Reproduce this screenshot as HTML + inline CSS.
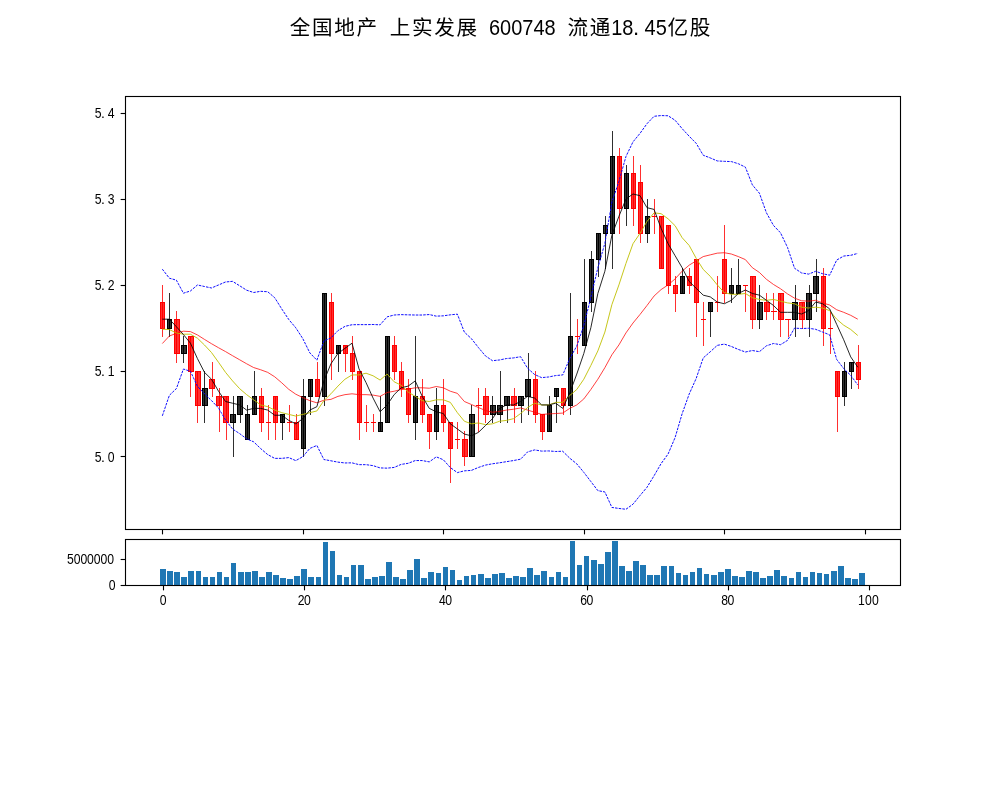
<!DOCTYPE html>
<html lang="zh"><head><meta charset="utf-8"><title>全国地产 上实发展 600748</title>
<style>html,body{margin:0;padding:0;background:#fff;}body{width:1000px;height:800px;overflow:hidden;}svg{display:block;will-change:transform;}text{font-family:"Liberation Sans","Noto Sans CJK SC",sans-serif;fill:#000;}.tk{font-size:13.89px;}.tt{font-size:22.22px;}</style></head><body>
<svg width="1000" height="800" viewBox="0 0 1000 800">
<g class="tt">
<text x="300.12" y="35.3" text-anchor="middle" font-size="20.6">全</text>
<text x="322.34" y="35.3" text-anchor="middle" font-size="20.6">国</text>
<text x="344.56" y="35.3" text-anchor="middle" font-size="20.6">地</text>
<text x="366.78" y="35.3" text-anchor="middle" font-size="20.6">产</text>
<text x="400.11" y="35.3" text-anchor="middle" font-size="20.6">上</text>
<text x="422.33" y="35.3" text-anchor="middle" font-size="20.6">实</text>
<text x="444.55" y="35.3" text-anchor="middle" font-size="20.6">发</text>
<text x="466.77" y="35.3" text-anchor="middle" font-size="20.6">展</text>
<text transform="translate(494.55,35.0) scale(0.90,1)" text-anchor="middle">6</text>
<text transform="translate(505.66,35.0) scale(0.90,1)" text-anchor="middle">0</text>
<text transform="translate(516.77,35.0) scale(0.90,1)" text-anchor="middle">0</text>
<text transform="translate(527.88,35.0) scale(0.90,1)" text-anchor="middle">7</text>
<text transform="translate(538.99,35.0) scale(0.90,1)" text-anchor="middle">4</text>
<text transform="translate(550.10,35.0) scale(0.90,1)" text-anchor="middle">8</text>
<text x="577.87" y="35.3" text-anchor="middle" font-size="20.6">流</text>
<text x="600.09" y="35.3" text-anchor="middle" font-size="20.6">通</text>
<text transform="translate(616.76,35.0) scale(0.90,1)" text-anchor="middle">1</text>
<text transform="translate(627.87,35.0) scale(0.90,1)" text-anchor="middle">8</text>
<text x="636.02" y="35.0" text-anchor="middle">.</text>
<text transform="translate(650.09,35.0) scale(0.90,1)" text-anchor="middle">4</text>
<text transform="translate(661.20,35.0) scale(0.90,1)" text-anchor="middle">5</text>
<text x="677.86" y="35.3" text-anchor="middle" font-size="20.6">亿</text>
<text x="700.08" y="35.3" text-anchor="middle" font-size="20.6">股</text>
</g>
<defs><clipPath id="cm"><rect x="125.5" y="96.5" width="775.0" height="433.0"/></clipPath></defs>
<g clip-path="url(#cm)">
<line x1="162.5" x2="162.5" y1="285" y2="337" stroke="#ff0000" stroke-width="0.82"/>
<rect x="160" y="302" width="5" height="27" fill="#ff0000"/>
<rect x="161" y="303" width="1.0" height="25" fill="#ff3030"/>
<rect x="163.0" y="303" width="1.0" height="25" fill="#ff3030"/>
<line x1="169.5" x2="169.5" y1="293" y2="337" stroke="#000000" stroke-width="0.82"/>
<rect x="167" y="319" width="5" height="10" fill="#000000"/>
<rect x="168" y="320" width="1.0" height="8" fill="#333333"/>
<rect x="170.0" y="320" width="1.0" height="8" fill="#333333"/>
<line x1="176.5" x2="176.5" y1="311" y2="363" stroke="#ff0000" stroke-width="0.82"/>
<rect x="174" y="319" width="6" height="35" fill="#ff0000"/>
<rect x="175" y="320" width="1.0" height="33" fill="#ff3030"/>
<rect x="177.0" y="320" width="2.0" height="33" fill="#ff3030"/>
<line x1="183.5" x2="183.5" y1="336" y2="363" stroke="#000000" stroke-width="0.82"/>
<rect x="181" y="345" width="6" height="9" fill="#000000"/>
<rect x="182" y="346" width="1.0" height="7" fill="#333333"/>
<rect x="184.0" y="346" width="2.0" height="7" fill="#333333"/>
<line x1="190.5" x2="190.5" y1="336" y2="397" stroke="#ff0000" stroke-width="0.82"/>
<rect x="188" y="336" width="6" height="36" fill="#ff0000"/>
<rect x="189" y="337" width="1.0" height="34" fill="#ff3030"/>
<rect x="191.0" y="337" width="2.0" height="34" fill="#ff3030"/>
<line x1="197.5" x2="197.5" y1="371" y2="423" stroke="#ff0000" stroke-width="0.82"/>
<rect x="195" y="371" width="6" height="35" fill="#ff0000"/>
<rect x="196" y="372" width="1.0" height="33" fill="#ff3030"/>
<rect x="198.0" y="372" width="2.0" height="33" fill="#ff3030"/>
<line x1="204.5" x2="204.5" y1="371" y2="423" stroke="#000000" stroke-width="0.82"/>
<rect x="202" y="388" width="6" height="18" fill="#000000"/>
<rect x="203" y="389" width="1.0" height="16" fill="#333333"/>
<rect x="205.0" y="389" width="2.0" height="16" fill="#333333"/>
<line x1="212.5" x2="212.5" y1="362" y2="397" stroke="#ff0000" stroke-width="0.82"/>
<rect x="209" y="379" width="6" height="10" fill="#ff0000"/>
<rect x="210" y="380" width="2.0" height="8" fill="#ff3030"/>
<rect x="213.0" y="380" width="1.0" height="8" fill="#ff3030"/>
<line x1="219.5" x2="219.5" y1="388" y2="432" stroke="#ff0000" stroke-width="0.82"/>
<rect x="216" y="396" width="6" height="10" fill="#ff0000"/>
<rect x="217" y="397" width="2.0" height="8" fill="#ff3030"/>
<rect x="220.0" y="397" width="1.0" height="8" fill="#ff3030"/>
<line x1="226.5" x2="226.5" y1="396" y2="440" stroke="#ff0000" stroke-width="0.82"/>
<rect x="223" y="396" width="6" height="27" fill="#ff0000"/>
<rect x="224" y="397" width="2.0" height="25" fill="#ff3030"/>
<rect x="227.0" y="397" width="1.0" height="25" fill="#ff3030"/>
<line x1="233.5" x2="233.5" y1="396" y2="457" stroke="#000000" stroke-width="0.82"/>
<rect x="230" y="414" width="6" height="9" fill="#000000"/>
<rect x="231" y="415" width="2.0" height="7" fill="#333333"/>
<rect x="234.0" y="415" width="1.0" height="7" fill="#333333"/>
<line x1="240.5" x2="240.5" y1="396" y2="423" stroke="#000000" stroke-width="0.82"/>
<rect x="237" y="396" width="6" height="19" fill="#000000"/>
<rect x="238" y="397" width="2.0" height="17" fill="#333333"/>
<rect x="241.0" y="397" width="1.0" height="17" fill="#333333"/>
<line x1="247.5" x2="247.5" y1="405" y2="440" stroke="#000000" stroke-width="0.82"/>
<rect x="245" y="414" width="5" height="26" fill="#000000"/>
<rect x="246" y="415" width="1.0" height="24" fill="#333333"/>
<rect x="248.0" y="415" width="1.0" height="24" fill="#333333"/>
<line x1="254.5" x2="254.5" y1="371" y2="415" stroke="#000000" stroke-width="0.82"/>
<rect x="252" y="396" width="5" height="19" fill="#000000"/>
<rect x="253" y="397" width="1.0" height="17" fill="#333333"/>
<rect x="255.0" y="397" width="1.0" height="17" fill="#333333"/>
<line x1="261.5" x2="261.5" y1="388" y2="432" stroke="#ff0000" stroke-width="0.82"/>
<rect x="259" y="396" width="5" height="27" fill="#ff0000"/>
<rect x="260" y="397" width="1.0" height="25" fill="#ff3030"/>
<rect x="262.0" y="397" width="1.0" height="25" fill="#ff3030"/>
<line x1="268.5" x2="268.5" y1="405" y2="440" stroke="#ff0000" stroke-width="0.82"/>
<rect x="266" y="422" width="5" height="1" fill="#ff0000"/>
<line x1="275.5" x2="275.5" y1="396" y2="440" stroke="#ff0000" stroke-width="0.82"/>
<rect x="273" y="396" width="5" height="27" fill="#ff0000"/>
<rect x="274" y="397" width="1.0" height="25" fill="#ff3030"/>
<rect x="276.0" y="397" width="1.0" height="25" fill="#ff3030"/>
<line x1="282.5" x2="282.5" y1="414" y2="440" stroke="#000000" stroke-width="0.82"/>
<rect x="280" y="414" width="5" height="9" fill="#000000"/>
<rect x="281" y="415" width="1.0" height="7" fill="#333333"/>
<rect x="283.0" y="415" width="1.0" height="7" fill="#333333"/>
<line x1="289.5" x2="289.5" y1="405" y2="432" stroke="#ff0000" stroke-width="0.82"/>
<rect x="287" y="422" width="5" height="1" fill="#ff0000"/>
<line x1="296.5" x2="296.5" y1="414" y2="440" stroke="#ff0000" stroke-width="0.82"/>
<rect x="294" y="422" width="5" height="18" fill="#ff0000"/>
<rect x="295" y="423" width="1.0" height="16" fill="#ff3030"/>
<rect x="297.0" y="423" width="1.0" height="16" fill="#ff3030"/>
<line x1="303.5" x2="303.5" y1="379" y2="457" stroke="#000000" stroke-width="0.82"/>
<rect x="301" y="396" width="5" height="53" fill="#000000"/>
<rect x="302" y="397" width="1.0" height="51" fill="#333333"/>
<rect x="304.0" y="397" width="1.0" height="51" fill="#333333"/>
<line x1="310.5" x2="310.5" y1="379" y2="415" stroke="#000000" stroke-width="0.82"/>
<rect x="308" y="379" width="5" height="18" fill="#000000"/>
<rect x="309" y="380" width="1.0" height="16" fill="#333333"/>
<rect x="311.0" y="380" width="1.0" height="16" fill="#333333"/>
<line x1="317.5" x2="317.5" y1="362" y2="397" stroke="#ff0000" stroke-width="0.82"/>
<rect x="315" y="379" width="5" height="18" fill="#ff0000"/>
<rect x="316" y="380" width="1.0" height="16" fill="#ff3030"/>
<rect x="318.0" y="380" width="1.0" height="16" fill="#ff3030"/>
<line x1="324.5" x2="324.5" y1="293" y2="406" stroke="#000000" stroke-width="0.82"/>
<rect x="322" y="293" width="5" height="104" fill="#000000"/>
<rect x="323" y="294" width="1.0" height="102" fill="#333333"/>
<rect x="325.0" y="294" width="1.0" height="102" fill="#333333"/>
<line x1="331.5" x2="331.5" y1="293" y2="380" stroke="#ff0000" stroke-width="0.82"/>
<rect x="329" y="302" width="5" height="52" fill="#ff0000"/>
<rect x="330" y="303" width="1.0" height="50" fill="#ff3030"/>
<rect x="332.0" y="303" width="1.0" height="50" fill="#ff3030"/>
<line x1="338.5" x2="338.5" y1="345" y2="372" stroke="#000000" stroke-width="0.82"/>
<rect x="336" y="345" width="5" height="9" fill="#000000"/>
<rect x="337" y="346" width="1.0" height="7" fill="#333333"/>
<rect x="339.0" y="346" width="1.0" height="7" fill="#333333"/>
<line x1="345.5" x2="345.5" y1="345" y2="372" stroke="#ff0000" stroke-width="0.82"/>
<rect x="343" y="345" width="5" height="9" fill="#ff0000"/>
<rect x="344" y="346" width="1.0" height="7" fill="#ff3030"/>
<rect x="346.0" y="346" width="1.0" height="7" fill="#ff3030"/>
<line x1="352.5" x2="352.5" y1="336" y2="380" stroke="#ff0000" stroke-width="0.82"/>
<rect x="350" y="353" width="5" height="19" fill="#ff0000"/>
<rect x="351" y="354" width="1.0" height="17" fill="#ff3030"/>
<rect x="353.0" y="354" width="1.0" height="17" fill="#ff3030"/>
<line x1="359.5" x2="359.5" y1="371" y2="440" stroke="#ff0000" stroke-width="0.82"/>
<rect x="357" y="371" width="5" height="52" fill="#ff0000"/>
<rect x="358" y="372" width="1.0" height="50" fill="#ff3030"/>
<rect x="360.0" y="372" width="1.0" height="50" fill="#ff3030"/>
<line x1="366.5" x2="366.5" y1="405" y2="432" stroke="#ff0000" stroke-width="0.82"/>
<rect x="364" y="422" width="5" height="1" fill="#ff0000"/>
<line x1="373.5" x2="373.5" y1="414" y2="432" stroke="#ff0000" stroke-width="0.82"/>
<rect x="371" y="422" width="5" height="1" fill="#ff0000"/>
<line x1="380.5" x2="380.5" y1="396" y2="432" stroke="#000000" stroke-width="0.82"/>
<rect x="378" y="422" width="5" height="10" fill="#000000"/>
<rect x="379" y="423" width="1.0" height="8" fill="#333333"/>
<rect x="381.0" y="423" width="1.0" height="8" fill="#333333"/>
<line x1="387.5" x2="387.5" y1="336" y2="423" stroke="#000000" stroke-width="0.82"/>
<rect x="385" y="336" width="5" height="87" fill="#000000"/>
<rect x="386" y="337" width="1.0" height="85" fill="#333333"/>
<rect x="388.0" y="337" width="1.0" height="85" fill="#333333"/>
<line x1="394.5" x2="394.5" y1="336" y2="380" stroke="#ff0000" stroke-width="0.82"/>
<rect x="392" y="345" width="5" height="27" fill="#ff0000"/>
<rect x="393" y="346" width="1.0" height="25" fill="#ff3030"/>
<rect x="395.0" y="346" width="1.0" height="25" fill="#ff3030"/>
<line x1="401.5" x2="401.5" y1="362" y2="397" stroke="#ff0000" stroke-width="0.82"/>
<rect x="399" y="371" width="5" height="18" fill="#ff0000"/>
<rect x="400" y="372" width="1.0" height="16" fill="#ff3030"/>
<rect x="402.0" y="372" width="1.0" height="16" fill="#ff3030"/>
<line x1="408.5" x2="408.5" y1="379" y2="423" stroke="#ff0000" stroke-width="0.82"/>
<rect x="406" y="388" width="5" height="27" fill="#ff0000"/>
<rect x="407" y="389" width="1.0" height="25" fill="#ff3030"/>
<rect x="409.0" y="389" width="1.0" height="25" fill="#ff3030"/>
<line x1="415.5" x2="415.5" y1="336" y2="440" stroke="#000000" stroke-width="0.82"/>
<rect x="413" y="396" width="5" height="27" fill="#000000"/>
<rect x="414" y="397" width="1.0" height="25" fill="#333333"/>
<rect x="416.0" y="397" width="1.0" height="25" fill="#333333"/>
<line x1="422.5" x2="422.5" y1="379" y2="423" stroke="#ff0000" stroke-width="0.82"/>
<rect x="420" y="396" width="5" height="19" fill="#ff0000"/>
<rect x="421" y="397" width="1.0" height="17" fill="#ff3030"/>
<rect x="423.0" y="397" width="1.0" height="17" fill="#ff3030"/>
<line x1="429.5" x2="429.5" y1="414" y2="449" stroke="#ff0000" stroke-width="0.82"/>
<rect x="427" y="414" width="5" height="18" fill="#ff0000"/>
<rect x="428" y="415" width="1.0" height="16" fill="#ff3030"/>
<rect x="430.0" y="415" width="1.0" height="16" fill="#ff3030"/>
<line x1="436.5" x2="436.5" y1="388" y2="440" stroke="#000000" stroke-width="0.82"/>
<rect x="434" y="405" width="5" height="27" fill="#000000"/>
<rect x="435" y="406" width="1.0" height="25" fill="#333333"/>
<rect x="437.0" y="406" width="1.0" height="25" fill="#333333"/>
<line x1="443.5" x2="443.5" y1="379" y2="432" stroke="#ff0000" stroke-width="0.82"/>
<rect x="441" y="405" width="5" height="18" fill="#ff0000"/>
<rect x="442" y="406" width="1.0" height="16" fill="#ff3030"/>
<rect x="444.0" y="406" width="1.0" height="16" fill="#ff3030"/>
<line x1="450.5" x2="450.5" y1="422" y2="483" stroke="#ff0000" stroke-width="0.82"/>
<rect x="448" y="422" width="5" height="27" fill="#ff0000"/>
<rect x="449" y="423" width="1.0" height="25" fill="#ff3030"/>
<rect x="451.0" y="423" width="1.0" height="25" fill="#ff3030"/>
<line x1="457.5" x2="457.5" y1="422" y2="449" stroke="#ff0000" stroke-width="0.82"/>
<rect x="455" y="439" width="5" height="1" fill="#ff0000"/>
<line x1="464.5" x2="464.5" y1="431" y2="466" stroke="#ff0000" stroke-width="0.82"/>
<rect x="462" y="439" width="6" height="18" fill="#ff0000"/>
<rect x="463" y="440" width="1.0" height="16" fill="#ff3030"/>
<rect x="465.0" y="440" width="2.0" height="16" fill="#ff3030"/>
<line x1="471.5" x2="471.5" y1="405" y2="457" stroke="#000000" stroke-width="0.82"/>
<rect x="469" y="414" width="6" height="43" fill="#000000"/>
<rect x="470" y="415" width="1.0" height="41" fill="#333333"/>
<rect x="472.0" y="415" width="2.0" height="41" fill="#333333"/>
<line x1="478.5" x2="478.5" y1="388" y2="432" stroke="#ff0000" stroke-width="0.82"/>
<rect x="476" y="405" width="6" height="1" fill="#ff0000"/>
<line x1="485.5" x2="485.5" y1="388" y2="423" stroke="#ff0000" stroke-width="0.82"/>
<rect x="483" y="396" width="6" height="19" fill="#ff0000"/>
<rect x="484" y="397" width="1.0" height="17" fill="#ff3030"/>
<rect x="486.0" y="397" width="2.0" height="17" fill="#ff3030"/>
<line x1="492.5" x2="492.5" y1="396" y2="423" stroke="#000000" stroke-width="0.82"/>
<rect x="490" y="405" width="6" height="10" fill="#000000"/>
<rect x="491" y="406" width="1.0" height="8" fill="#333333"/>
<rect x="493.0" y="406" width="2.0" height="8" fill="#333333"/>
<line x1="500.5" x2="500.5" y1="371" y2="423" stroke="#000000" stroke-width="0.82"/>
<rect x="497" y="405" width="6" height="10" fill="#000000"/>
<rect x="498" y="406" width="2.0" height="8" fill="#333333"/>
<rect x="501.0" y="406" width="1.0" height="8" fill="#333333"/>
<line x1="507.5" x2="507.5" y1="396" y2="423" stroke="#000000" stroke-width="0.82"/>
<rect x="504" y="396" width="6" height="10" fill="#000000"/>
<rect x="505" y="397" width="2.0" height="8" fill="#333333"/>
<rect x="508.0" y="397" width="1.0" height="8" fill="#333333"/>
<line x1="514.5" x2="514.5" y1="388" y2="423" stroke="#ff0000" stroke-width="0.82"/>
<rect x="511" y="396" width="6" height="10" fill="#ff0000"/>
<rect x="512" y="397" width="2.0" height="8" fill="#ff3030"/>
<rect x="515.0" y="397" width="1.0" height="8" fill="#ff3030"/>
<line x1="521.5" x2="521.5" y1="396" y2="423" stroke="#000000" stroke-width="0.82"/>
<rect x="518" y="396" width="6" height="10" fill="#000000"/>
<rect x="519" y="397" width="2.0" height="8" fill="#333333"/>
<rect x="522.0" y="397" width="1.0" height="8" fill="#333333"/>
<line x1="528.5" x2="528.5" y1="353" y2="415" stroke="#000000" stroke-width="0.82"/>
<rect x="525" y="379" width="6" height="18" fill="#000000"/>
<rect x="526" y="380" width="2.0" height="16" fill="#333333"/>
<rect x="529.0" y="380" width="1.0" height="16" fill="#333333"/>
<line x1="535.5" x2="535.5" y1="371" y2="423" stroke="#ff0000" stroke-width="0.82"/>
<rect x="533" y="379" width="5" height="36" fill="#ff0000"/>
<rect x="534" y="380" width="1.0" height="34" fill="#ff3030"/>
<rect x="536.0" y="380" width="1.0" height="34" fill="#ff3030"/>
<line x1="542.5" x2="542.5" y1="414" y2="440" stroke="#ff0000" stroke-width="0.82"/>
<rect x="540" y="414" width="5" height="18" fill="#ff0000"/>
<rect x="541" y="415" width="1.0" height="16" fill="#ff3030"/>
<rect x="543.0" y="415" width="1.0" height="16" fill="#ff3030"/>
<line x1="549.5" x2="549.5" y1="396" y2="432" stroke="#000000" stroke-width="0.82"/>
<rect x="547" y="405" width="5" height="27" fill="#000000"/>
<rect x="548" y="406" width="1.0" height="25" fill="#333333"/>
<rect x="550.0" y="406" width="1.0" height="25" fill="#333333"/>
<line x1="556.5" x2="556.5" y1="388" y2="423" stroke="#000000" stroke-width="0.82"/>
<rect x="554" y="388" width="5" height="9" fill="#000000"/>
<rect x="555" y="389" width="1.0" height="7" fill="#333333"/>
<rect x="557.0" y="389" width="1.0" height="7" fill="#333333"/>
<line x1="563.5" x2="563.5" y1="388" y2="415" stroke="#ff0000" stroke-width="0.82"/>
<rect x="561" y="388" width="5" height="18" fill="#ff0000"/>
<rect x="562" y="389" width="1.0" height="16" fill="#ff3030"/>
<rect x="564.0" y="389" width="1.0" height="16" fill="#ff3030"/>
<line x1="570.5" x2="570.5" y1="293" y2="415" stroke="#000000" stroke-width="0.82"/>
<rect x="568" y="336" width="5" height="70" fill="#000000"/>
<rect x="569" y="337" width="1.0" height="68" fill="#333333"/>
<rect x="571.0" y="337" width="1.0" height="68" fill="#333333"/>
<line x1="577.5" x2="577.5" y1="319" y2="354" stroke="#ff0000" stroke-width="0.82"/>
<rect x="575" y="336" width="5" height="1" fill="#ff0000"/>
<line x1="584.5" x2="584.5" y1="259" y2="346" stroke="#000000" stroke-width="0.82"/>
<rect x="582" y="302" width="5" height="44" fill="#000000"/>
<rect x="583" y="303" width="1.0" height="42" fill="#333333"/>
<rect x="585.0" y="303" width="1.0" height="42" fill="#333333"/>
<line x1="591.5" x2="591.5" y1="251" y2="312" stroke="#000000" stroke-width="0.82"/>
<rect x="589" y="259" width="5" height="44" fill="#000000"/>
<rect x="590" y="260" width="1.0" height="42" fill="#333333"/>
<rect x="592.0" y="260" width="1.0" height="42" fill="#333333"/>
<line x1="598.5" x2="598.5" y1="233" y2="277" stroke="#000000" stroke-width="0.82"/>
<rect x="596" y="233" width="5" height="27" fill="#000000"/>
<rect x="597" y="234" width="1.0" height="25" fill="#333333"/>
<rect x="599.0" y="234" width="1.0" height="25" fill="#333333"/>
<line x1="605.5" x2="605.5" y1="216" y2="269" stroke="#000000" stroke-width="0.82"/>
<rect x="603" y="225" width="5" height="9" fill="#000000"/>
<rect x="604" y="226" width="1.0" height="7" fill="#333333"/>
<rect x="606.0" y="226" width="1.0" height="7" fill="#333333"/>
<line x1="612.5" x2="612.5" y1="131" y2="269" stroke="#000000" stroke-width="0.82"/>
<rect x="610" y="156" width="5" height="78" fill="#000000"/>
<rect x="611" y="157" width="1.0" height="76" fill="#333333"/>
<rect x="613.0" y="157" width="1.0" height="76" fill="#333333"/>
<line x1="619.5" x2="619.5" y1="148" y2="234" stroke="#ff0000" stroke-width="0.82"/>
<rect x="617" y="156" width="5" height="53" fill="#ff0000"/>
<rect x="618" y="157" width="1.0" height="51" fill="#ff3030"/>
<rect x="620.0" y="157" width="1.0" height="51" fill="#ff3030"/>
<line x1="626.5" x2="626.5" y1="165" y2="226" stroke="#000000" stroke-width="0.82"/>
<rect x="624" y="173" width="5" height="36" fill="#000000"/>
<rect x="625" y="174" width="1.0" height="34" fill="#333333"/>
<rect x="627.0" y="174" width="1.0" height="34" fill="#333333"/>
<line x1="633.5" x2="633.5" y1="156" y2="226" stroke="#ff0000" stroke-width="0.82"/>
<rect x="631" y="173" width="5" height="36" fill="#ff0000"/>
<rect x="632" y="174" width="1.0" height="34" fill="#ff3030"/>
<rect x="634.0" y="174" width="1.0" height="34" fill="#ff3030"/>
<line x1="640.5" x2="640.5" y1="165" y2="243" stroke="#ff0000" stroke-width="0.82"/>
<rect x="638" y="182" width="5" height="52" fill="#ff0000"/>
<rect x="639" y="183" width="1.0" height="50" fill="#ff3030"/>
<rect x="641.0" y="183" width="1.0" height="50" fill="#ff3030"/>
<line x1="647.5" x2="647.5" y1="199" y2="243" stroke="#000000" stroke-width="0.82"/>
<rect x="645" y="216" width="5" height="18" fill="#000000"/>
<rect x="646" y="217" width="1.0" height="16" fill="#333333"/>
<rect x="648.0" y="217" width="1.0" height="16" fill="#333333"/>
<line x1="654.5" x2="654.5" y1="199" y2="234" stroke="#ff0000" stroke-width="0.82"/>
<rect x="652" y="216" width="5" height="1" fill="#ff0000"/>
<line x1="661.5" x2="661.5" y1="216" y2="269" stroke="#ff0000" stroke-width="0.82"/>
<rect x="659" y="216" width="5" height="53" fill="#ff0000"/>
<rect x="660" y="217" width="1.0" height="51" fill="#ff3030"/>
<rect x="662.0" y="217" width="1.0" height="51" fill="#ff3030"/>
<line x1="668.5" x2="668.5" y1="225" y2="294" stroke="#ff0000" stroke-width="0.82"/>
<rect x="666" y="225" width="5" height="61" fill="#ff0000"/>
<rect x="667" y="226" width="1.0" height="59" fill="#ff3030"/>
<rect x="669.0" y="226" width="1.0" height="59" fill="#ff3030"/>
<line x1="675.5" x2="675.5" y1="276" y2="312" stroke="#ff0000" stroke-width="0.82"/>
<rect x="673" y="285" width="5" height="9" fill="#ff0000"/>
<rect x="674" y="286" width="1.0" height="7" fill="#ff3030"/>
<rect x="676.0" y="286" width="1.0" height="7" fill="#ff3030"/>
<line x1="682.5" x2="682.5" y1="268" y2="294" stroke="#000000" stroke-width="0.82"/>
<rect x="680" y="276" width="5" height="18" fill="#000000"/>
<rect x="681" y="277" width="1.0" height="16" fill="#333333"/>
<rect x="683.0" y="277" width="1.0" height="16" fill="#333333"/>
<line x1="689.5" x2="689.5" y1="268" y2="294" stroke="#ff0000" stroke-width="0.82"/>
<rect x="687" y="276" width="5" height="10" fill="#ff0000"/>
<rect x="688" y="277" width="1.0" height="8" fill="#ff3030"/>
<rect x="690.0" y="277" width="1.0" height="8" fill="#ff3030"/>
<line x1="696.5" x2="696.5" y1="259" y2="337" stroke="#ff0000" stroke-width="0.82"/>
<rect x="694" y="259" width="5" height="44" fill="#ff0000"/>
<rect x="695" y="260" width="1.0" height="42" fill="#ff3030"/>
<rect x="697.0" y="260" width="1.0" height="42" fill="#ff3030"/>
<line x1="703.5" x2="703.5" y1="302" y2="346" stroke="#ff0000" stroke-width="0.82"/>
<rect x="701" y="319" width="5" height="1" fill="#ff0000"/>
<line x1="710.5" x2="710.5" y1="302" y2="337" stroke="#000000" stroke-width="0.82"/>
<rect x="708" y="302" width="5" height="10" fill="#000000"/>
<rect x="709" y="303" width="1.0" height="8" fill="#333333"/>
<rect x="711.0" y="303" width="1.0" height="8" fill="#333333"/>
<line x1="717.5" x2="717.5" y1="276" y2="312" stroke="#ff0000" stroke-width="0.82"/>
<rect x="715" y="302" width="5" height="1" fill="#ff0000"/>
<line x1="724.5" x2="724.5" y1="225" y2="303" stroke="#ff0000" stroke-width="0.82"/>
<rect x="722" y="259" width="5" height="35" fill="#ff0000"/>
<rect x="723" y="260" width="1.0" height="33" fill="#ff3030"/>
<rect x="725.0" y="260" width="1.0" height="33" fill="#ff3030"/>
<line x1="731.5" x2="731.5" y1="268" y2="303" stroke="#000000" stroke-width="0.82"/>
<rect x="729" y="285" width="5" height="9" fill="#000000"/>
<rect x="730" y="286" width="1.0" height="7" fill="#333333"/>
<rect x="732.0" y="286" width="1.0" height="7" fill="#333333"/>
<line x1="738.5" x2="738.5" y1="259" y2="294" stroke="#000000" stroke-width="0.82"/>
<rect x="736" y="285" width="5" height="9" fill="#000000"/>
<rect x="737" y="286" width="1.0" height="7" fill="#333333"/>
<rect x="739.0" y="286" width="1.0" height="7" fill="#333333"/>
<line x1="745.5" x2="745.5" y1="285" y2="312" stroke="#ff0000" stroke-width="0.82"/>
<rect x="743" y="285" width="5" height="1" fill="#ff0000"/>
<line x1="752.5" x2="752.5" y1="276" y2="329" stroke="#ff0000" stroke-width="0.82"/>
<rect x="750" y="276" width="6" height="44" fill="#ff0000"/>
<rect x="751" y="277" width="1.0" height="42" fill="#ff3030"/>
<rect x="753.0" y="277" width="2.0" height="42" fill="#ff3030"/>
<line x1="759.5" x2="759.5" y1="285" y2="329" stroke="#000000" stroke-width="0.82"/>
<rect x="757" y="302" width="6" height="18" fill="#000000"/>
<rect x="758" y="303" width="1.0" height="16" fill="#333333"/>
<rect x="760.0" y="303" width="2.0" height="16" fill="#333333"/>
<line x1="766.5" x2="766.5" y1="293" y2="320" stroke="#ff0000" stroke-width="0.82"/>
<rect x="764" y="302" width="6" height="10" fill="#ff0000"/>
<rect x="765" y="303" width="1.0" height="8" fill="#ff3030"/>
<rect x="767.0" y="303" width="2.0" height="8" fill="#ff3030"/>
<line x1="773.5" x2="773.5" y1="293" y2="320" stroke="#ff0000" stroke-width="0.82"/>
<rect x="771" y="311" width="6" height="1" fill="#ff0000"/>
<line x1="780.5" x2="780.5" y1="293" y2="337" stroke="#ff0000" stroke-width="0.82"/>
<rect x="778" y="293" width="6" height="27" fill="#ff0000"/>
<rect x="779" y="294" width="1.0" height="25" fill="#ff3030"/>
<rect x="781.0" y="294" width="2.0" height="25" fill="#ff3030"/>
<line x1="788.5" x2="788.5" y1="319" y2="337" stroke="#ff0000" stroke-width="0.82"/>
<rect x="785" y="319" width="6" height="1" fill="#ff0000"/>
<line x1="795.5" x2="795.5" y1="285" y2="337" stroke="#000000" stroke-width="0.82"/>
<rect x="792" y="302" width="6" height="18" fill="#000000"/>
<rect x="793" y="303" width="2.0" height="16" fill="#333333"/>
<rect x="796.0" y="303" width="1.0" height="16" fill="#333333"/>
<line x1="802.5" x2="802.5" y1="302" y2="329" stroke="#ff0000" stroke-width="0.82"/>
<rect x="799" y="302" width="6" height="18" fill="#ff0000"/>
<rect x="800" y="303" width="2.0" height="16" fill="#ff3030"/>
<rect x="803.0" y="303" width="1.0" height="16" fill="#ff3030"/>
<line x1="809.5" x2="809.5" y1="285" y2="337" stroke="#000000" stroke-width="0.82"/>
<rect x="806" y="293" width="6" height="27" fill="#000000"/>
<rect x="807" y="294" width="2.0" height="25" fill="#333333"/>
<rect x="810.0" y="294" width="1.0" height="25" fill="#333333"/>
<line x1="816.5" x2="816.5" y1="259" y2="312" stroke="#000000" stroke-width="0.82"/>
<rect x="813" y="276" width="6" height="18" fill="#000000"/>
<rect x="814" y="277" width="2.0" height="16" fill="#333333"/>
<rect x="817.0" y="277" width="1.0" height="16" fill="#333333"/>
<line x1="823.5" x2="823.5" y1="268" y2="346" stroke="#ff0000" stroke-width="0.82"/>
<rect x="821" y="276" width="5" height="53" fill="#ff0000"/>
<rect x="822" y="277" width="1.0" height="51" fill="#ff3030"/>
<rect x="824.0" y="277" width="1.0" height="51" fill="#ff3030"/>
<line x1="830.5" x2="830.5" y1="311" y2="354" stroke="#ff0000" stroke-width="0.82"/>
<rect x="828" y="328" width="5" height="1" fill="#ff0000"/>
<line x1="837.5" x2="837.5" y1="371" y2="432" stroke="#ff0000" stroke-width="0.82"/>
<rect x="835" y="371" width="5" height="26" fill="#ff0000"/>
<rect x="836" y="372" width="1.0" height="24" fill="#ff3030"/>
<rect x="838.0" y="372" width="1.0" height="24" fill="#ff3030"/>
<line x1="844.5" x2="844.5" y1="362" y2="406" stroke="#000000" stroke-width="0.82"/>
<rect x="842" y="371" width="5" height="26" fill="#000000"/>
<rect x="843" y="372" width="1.0" height="24" fill="#333333"/>
<rect x="845.0" y="372" width="1.0" height="24" fill="#333333"/>
<line x1="851.5" x2="851.5" y1="362" y2="389" stroke="#000000" stroke-width="0.82"/>
<rect x="849" y="362" width="5" height="10" fill="#000000"/>
<rect x="850" y="363" width="1.0" height="8" fill="#333333"/>
<rect x="852.0" y="363" width="1.0" height="8" fill="#333333"/>
<line x1="858.5" x2="858.5" y1="345" y2="389" stroke="#ff0000" stroke-width="0.82"/>
<rect x="856" y="362" width="5" height="18" fill="#ff0000"/>
<rect x="857" y="363" width="1.0" height="16" fill="#ff3030"/>
<rect x="859.0" y="363" width="1.0" height="16" fill="#ff3030"/>
<polyline points="162.34,269.19 169.37,278.19 176.39,280.16 183.41,293.20 190.44,290.97 197.46,284.97 204.49,286.51 211.51,287.97 218.54,284.97 225.56,281.96 232.59,281.36 239.61,285.74 246.63,290.20 253.66,292.51 260.68,291.31 267.71,291.74 274.73,297.74 281.76,308.98 288.78,319.53 295.80,327.82 302.83,338.67 309.85,352.91 316.88,360.13 323.90,340.94 330.93,337.94 337.95,330.61 344.98,326.35 352.00,324.74 359.02,324.64 366.05,324.64 373.07,324.51 380.10,324.82 387.12,316.87 394.15,315.02 401.17,314.63 408.19,314.85 415.22,315.02 422.24,315.02 429.27,314.55 436.29,316.15 443.32,315.84 450.34,314.82 457.37,314.16 464.39,332.18 471.41,338.65 478.44,347.58 485.46,355.93 492.49,360.70 499.51,359.96 506.54,358.52 513.56,357.92 520.59,356.70 527.61,368.29 534.63,374.55 541.66,377.63 548.68,376.97 555.71,375.55 562.73,374.94 569.76,358.54 576.78,346.02 583.81,325.55 590.83,297.52 597.85,267.79 604.88,243.33 611.90,202.10 618.93,181.38 625.95,156.53 632.98,141.89 640.00,133.40 647.02,123.67 654.05,116.29 661.07,115.57 668.10,115.78 675.12,120.27 682.15,128.64 689.17,136.22 696.20,143.33 703.22,155.24 710.24,157.91 717.27,160.93 724.29,161.33 731.32,161.58 738.34,163.72 745.37,167.14 752.39,184.94 759.41,193.20 766.44,212.82 773.46,225.41 780.49,232.77 787.51,247.39 794.54,268.23 801.56,272.94 808.59,274.11 815.61,271.31 822.63,273.73 829.66,275.19 836.68,260.07 843.71,256.06 850.73,255.30 857.76,253.42" fill="none" stroke="#0000ff" stroke-width="0.95" stroke-dasharray="2.57,1.11" stroke-linejoin="round"/>
<polyline points="162.34,415.84 169.37,395.34 176.39,388.56 183.41,369.01 190.44,371.33 197.46,386.33 204.49,393.80 211.51,400.57 218.54,408.03 225.56,420.04 232.59,429.04 239.61,433.59 246.63,438.82 253.66,441.82 260.68,448.60 267.71,454.60 274.73,458.37 281.76,458.37 288.78,457.60 295.80,460.63 302.83,456.64 309.85,448.41 316.88,445.47 323.90,459.51 330.93,460.80 337.95,462.13 344.98,462.96 352.00,462.85 359.02,464.66 366.05,464.66 373.07,465.65 380.10,467.91 387.12,468.15 394.15,467.43 401.17,464.39 408.19,463.30 415.22,460.56 422.24,460.56 429.27,461.89 436.29,456.87 443.32,459.75 450.34,467.62 457.37,472.58 464.39,470.85 471.41,470.38 478.44,467.45 485.46,465.10 492.49,463.77 499.51,462.80 506.54,461.66 513.56,460.54 520.59,459.19 527.61,451.89 534.63,449.92 541.66,451.12 548.68,450.93 555.71,451.49 562.73,451.24 569.76,458.20 576.78,463.86 583.81,472.33 590.83,481.49 597.85,490.64 604.88,491.95 611.90,507.44 618.93,508.44 625.95,509.28 632.98,504.20 640.00,495.54 647.02,487.26 654.05,475.77 661.07,463.63 668.10,453.98 675.12,437.48 682.15,413.67 689.17,394.09 696.20,378.41 703.22,357.92 710.24,351.81 717.27,345.37 724.29,344.11 731.32,346.44 738.34,349.44 745.37,352.02 752.39,350.52 759.41,351.69 766.44,345.80 773.46,343.49 780.49,344.71 787.51,340.38 794.54,328.12 801.56,328.55 808.59,328.24 815.61,329.32 822.63,332.05 829.66,334.88 836.68,359.43 843.71,368.59 850.73,375.35 857.76,384.95" fill="none" stroke="#0000ff" stroke-width="0.95" stroke-dasharray="2.57,1.11" stroke-linejoin="round"/>
<polyline points="162.34,343.54 169.37,335.99 176.39,333.33 183.41,331.19 190.44,331.62 197.46,334.96 204.49,339.42 211.51,343.71 218.54,347.74 225.56,351.60 232.59,355.72 239.61,359.75 246.63,363.78 253.66,367.55 260.68,369.78 267.71,372.36 274.73,376.81 281.76,382.82 288.78,389.34 295.80,394.22 302.83,397.65 309.85,400.66 316.88,402.80 323.90,400.23 330.93,399.37 337.95,396.37 344.98,394.65 352.00,393.80 359.02,394.65 366.05,394.65 373.07,395.08 380.10,396.37 387.12,392.51 394.15,391.22 401.17,389.51 408.19,389.08 415.22,387.79 422.24,387.79 429.27,388.22 436.29,386.51 443.32,387.79 450.34,391.22 457.37,393.37 464.39,401.51 471.41,404.52 478.44,407.52 485.46,410.52 492.49,412.23 499.51,411.38 506.54,410.09 513.56,409.23 520.59,407.95 527.61,410.09 534.63,412.23 541.66,414.38 548.68,413.95 555.71,413.52 562.73,413.09 569.76,408.37 576.78,404.94 583.81,398.94 590.83,389.51 597.85,379.22 604.88,367.64 611.90,354.77 618.93,344.91 625.95,332.91 632.98,323.04 640.00,314.47 647.02,305.46 654.05,296.03 661.07,289.60 668.10,284.88 675.12,278.88 682.15,271.16 689.17,265.16 696.20,260.87 703.22,256.58 710.24,254.86 717.27,253.15 724.29,252.72 731.32,254.01 738.34,256.58 745.37,259.58 752.39,267.73 759.41,272.44 766.44,279.31 773.46,284.45 780.49,288.74 787.51,293.88 794.54,298.17 801.56,300.75 808.59,301.17 815.61,300.32 822.63,302.89 829.66,305.03 836.68,309.75 843.71,312.32 850.73,315.32 857.76,319.18" fill="none" stroke="#ff0000" stroke-width="0.75" stroke-linejoin="round"/>
<polyline points="162.34,329.22 169.37,329.56 176.39,332.99 183.41,334.19 190.44,334.19 197.46,338.22 204.49,345.00 211.51,352.54 218.54,362.32 225.56,372.36 232.59,380.93 239.61,388.65 246.63,394.65 253.66,399.80 260.68,404.94 267.71,406.66 274.73,410.09 281.76,412.66 288.78,414.38 295.80,416.09 302.83,414.38 309.85,412.66 316.88,410.95 323.90,400.66 330.93,393.80 337.95,386.08 344.98,379.22 352.00,374.93 359.02,374.93 366.05,373.21 373.07,375.79 380.10,380.07 387.12,374.07 394.15,381.79 401.17,385.22 408.19,392.08 415.22,396.37 422.24,400.66 429.27,401.51 436.29,399.80 443.32,399.80 450.34,402.37 457.37,412.66 464.39,421.24 471.41,423.81 478.44,422.95 485.46,424.67 492.49,423.81 499.51,421.24 506.54,420.38 513.56,418.67 520.59,413.52 527.61,407.52 534.63,403.23 541.66,404.94 548.68,404.94 555.71,402.37 562.73,402.37 569.76,395.51 576.78,389.51 583.81,379.22 590.83,365.49 597.85,350.92 604.88,332.05 611.90,304.60 618.93,284.88 625.95,263.44 632.98,243.72 640.00,233.42 647.02,221.42 654.05,212.84 661.07,213.70 668.10,218.84 675.12,225.71 682.15,237.71 689.17,245.43 696.20,258.29 703.22,269.44 710.24,276.30 717.27,284.88 724.29,292.60 731.32,294.31 738.34,294.31 745.37,293.46 752.39,297.74 759.41,299.46 766.44,300.32 773.46,299.46 780.49,301.17 787.51,302.89 794.54,303.75 801.56,307.18 808.59,308.04 815.61,307.18 822.63,308.04 829.66,310.61 836.68,319.18 843.71,325.19 850.73,329.48 857.76,335.48" fill="none" stroke="#bfbf00" stroke-width="0.9" stroke-linejoin="round"/>
<polyline points="162.34,319.18 169.37,319.18 176.39,326.73 183.41,334.54 190.44,343.20 197.46,358.63 204.49,372.36 211.51,379.22 218.54,391.22 225.56,401.51 232.59,403.23 239.61,404.94 246.63,410.09 253.66,408.37 260.68,408.37 267.71,410.09 274.73,415.24 281.76,415.24 288.78,420.38 295.80,423.81 302.83,418.67 309.85,410.09 316.88,406.66 323.90,380.93 330.93,363.78 337.95,353.49 344.98,348.34 352.00,343.20 359.02,368.92 366.05,382.65 373.07,398.08 380.10,411.80 387.12,404.94 394.15,394.65 401.17,387.79 408.19,386.08 415.22,380.93 422.24,396.37 429.27,408.37 436.29,411.80 443.32,413.52 450.34,423.81 457.37,428.96 464.39,434.10 471.41,435.82 478.44,432.39 485.46,425.53 492.49,418.67 499.51,408.37 506.54,404.94 513.56,404.94 520.59,401.51 527.61,396.37 534.63,398.08 541.66,404.94 548.68,404.94 555.71,403.23 562.73,408.37 569.76,392.94 576.78,374.07 583.81,353.49 590.83,327.76 597.85,293.46 604.88,271.16 611.90,235.14 618.93,216.27 625.95,199.12 632.98,193.97 640.00,195.69 647.02,207.70 654.05,209.41 661.07,228.28 668.10,243.72 675.12,255.72 682.15,267.73 689.17,281.45 696.20,288.31 703.22,295.17 710.24,296.89 717.27,302.03 724.29,303.75 731.32,300.32 738.34,293.46 745.37,290.03 752.39,293.46 759.41,295.17 766.44,300.32 773.46,305.46 780.49,312.32 787.51,312.32 794.54,312.32 801.56,314.04 808.59,310.61 815.61,302.03 822.63,303.75 829.66,308.89 836.68,324.33 843.71,339.77 850.73,356.92 857.76,367.21" fill="none" stroke="#000000" stroke-width="0.85" stroke-linejoin="round"/>
</g>
<rect x="125.5" y="96.5" width="775.0" height="433.0" fill="none" stroke="#000" stroke-width="1.11"/>
<line x1="120.64" x2="125.5" y1="456.5" y2="456.5" stroke="#000" stroke-width="1.11"/>
<g class="tk"><text transform="translate(98.10,462.00) scale(0.88,1)" text-anchor="middle">5</text><text x="102.90" y="462.00" text-anchor="middle">.</text><text transform="translate(111.10,462.00) scale(0.88,1)" text-anchor="middle">0</text></g>
<line x1="120.64" x2="125.5" y1="371.5" y2="371.5" stroke="#000" stroke-width="1.11"/>
<g class="tk"><text transform="translate(98.10,376.00) scale(0.88,1)" text-anchor="middle">5</text><text x="102.90" y="376.00" text-anchor="middle">.</text><text transform="translate(111.10,376.00) scale(0.88,1)" text-anchor="middle">1</text></g>
<line x1="120.64" x2="125.5" y1="285.5" y2="285.5" stroke="#000" stroke-width="1.11"/>
<g class="tk"><text transform="translate(98.10,290.00) scale(0.88,1)" text-anchor="middle">5</text><text x="102.90" y="290.00" text-anchor="middle">.</text><text transform="translate(111.10,290.00) scale(0.88,1)" text-anchor="middle">2</text></g>
<line x1="120.64" x2="125.5" y1="199.5" y2="199.5" stroke="#000" stroke-width="1.11"/>
<g class="tk"><text transform="translate(98.10,204.00) scale(0.88,1)" text-anchor="middle">5</text><text x="102.90" y="204.00" text-anchor="middle">.</text><text transform="translate(111.10,204.00) scale(0.88,1)" text-anchor="middle">3</text></g>
<line x1="120.64" x2="125.5" y1="113.5" y2="113.5" stroke="#000" stroke-width="1.11"/>
<g class="tk"><text transform="translate(98.10,118.00) scale(0.88,1)" text-anchor="middle">5</text><text x="102.90" y="118.00" text-anchor="middle">.</text><text transform="translate(111.10,118.00) scale(0.88,1)" text-anchor="middle">4</text></g>
<line x1="162.5" x2="162.5" y1="529.5" y2="534.36" stroke="#000" stroke-width="1.11"/>
<line x1="303.5" x2="303.5" y1="529.5" y2="534.36" stroke="#000" stroke-width="1.11"/>
<line x1="443.5" x2="443.5" y1="529.5" y2="534.36" stroke="#000" stroke-width="1.11"/>
<line x1="584.5" x2="584.5" y1="529.5" y2="534.36" stroke="#000" stroke-width="1.11"/>
<line x1="724.5" x2="724.5" y1="529.5" y2="534.36" stroke="#000" stroke-width="1.11"/>
<line x1="865.5" x2="865.5" y1="529.5" y2="534.36" stroke="#000" stroke-width="1.11"/>
<rect x="160" y="569" width="6" height="16.5" fill="#1f77b4"/>
<rect x="167" y="571" width="6" height="14.5" fill="#1f77b4"/>
<rect x="174" y="572" width="6" height="13.5" fill="#1f77b4"/>
<rect x="181" y="577" width="6" height="8.5" fill="#1f77b4"/>
<rect x="188" y="571" width="6" height="14.5" fill="#1f77b4"/>
<rect x="196" y="571" width="5" height="14.5" fill="#1f77b4"/>
<rect x="203" y="577" width="5" height="8.5" fill="#1f77b4"/>
<rect x="210" y="577" width="5" height="8.5" fill="#1f77b4"/>
<rect x="217" y="572" width="5" height="13.5" fill="#1f77b4"/>
<rect x="224" y="577" width="5" height="8.5" fill="#1f77b4"/>
<rect x="231" y="563" width="5" height="22.5" fill="#1f77b4"/>
<rect x="238" y="572" width="6" height="13.5" fill="#1f77b4"/>
<rect x="245" y="572" width="6" height="13.5" fill="#1f77b4"/>
<rect x="252" y="571" width="6" height="14.5" fill="#1f77b4"/>
<rect x="259" y="577" width="6" height="8.5" fill="#1f77b4"/>
<rect x="266" y="572" width="6" height="13.5" fill="#1f77b4"/>
<rect x="273" y="575" width="6" height="10.5" fill="#1f77b4"/>
<rect x="280" y="578" width="6" height="7.5" fill="#1f77b4"/>
<rect x="287" y="579" width="6" height="6.5" fill="#1f77b4"/>
<rect x="294" y="576" width="6" height="9.5" fill="#1f77b4"/>
<rect x="301" y="569" width="6" height="16.5" fill="#1f77b4"/>
<rect x="308" y="577" width="6" height="8.5" fill="#1f77b4"/>
<rect x="316" y="577" width="5" height="8.5" fill="#1f77b4"/>
<rect x="323" y="542" width="5" height="43.5" fill="#1f77b4"/>
<rect x="330" y="551" width="5" height="34.5" fill="#1f77b4"/>
<rect x="337" y="575" width="5" height="10.5" fill="#1f77b4"/>
<rect x="344" y="577" width="5" height="8.5" fill="#1f77b4"/>
<rect x="351" y="565" width="5" height="20.5" fill="#1f77b4"/>
<rect x="358" y="565" width="6" height="20.5" fill="#1f77b4"/>
<rect x="365" y="579" width="6" height="6.5" fill="#1f77b4"/>
<rect x="372" y="577" width="6" height="8.5" fill="#1f77b4"/>
<rect x="379" y="576" width="6" height="9.5" fill="#1f77b4"/>
<rect x="386" y="562" width="6" height="23.5" fill="#1f77b4"/>
<rect x="393" y="577" width="6" height="8.5" fill="#1f77b4"/>
<rect x="400" y="579" width="6" height="6.5" fill="#1f77b4"/>
<rect x="407" y="570" width="6" height="15.5" fill="#1f77b4"/>
<rect x="414" y="559" width="6" height="26.5" fill="#1f77b4"/>
<rect x="421" y="578" width="6" height="7.5" fill="#1f77b4"/>
<rect x="428" y="572" width="6" height="13.5" fill="#1f77b4"/>
<rect x="436" y="573" width="5" height="12.5" fill="#1f77b4"/>
<rect x="443" y="567" width="5" height="18.5" fill="#1f77b4"/>
<rect x="450" y="570" width="5" height="15.5" fill="#1f77b4"/>
<rect x="457" y="580" width="5" height="5.5" fill="#1f77b4"/>
<rect x="464" y="576" width="5" height="9.5" fill="#1f77b4"/>
<rect x="471" y="575" width="5" height="10.5" fill="#1f77b4"/>
<rect x="478" y="574" width="6" height="11.5" fill="#1f77b4"/>
<rect x="485" y="578" width="6" height="7.5" fill="#1f77b4"/>
<rect x="492" y="574" width="6" height="11.5" fill="#1f77b4"/>
<rect x="499" y="573" width="6" height="12.5" fill="#1f77b4"/>
<rect x="506" y="578" width="6" height="7.5" fill="#1f77b4"/>
<rect x="513" y="576" width="6" height="9.5" fill="#1f77b4"/>
<rect x="520" y="577" width="6" height="8.5" fill="#1f77b4"/>
<rect x="527" y="568" width="6" height="17.5" fill="#1f77b4"/>
<rect x="534" y="575" width="6" height="10.5" fill="#1f77b4"/>
<rect x="541" y="571" width="6" height="14.5" fill="#1f77b4"/>
<rect x="549" y="577" width="5" height="8.5" fill="#1f77b4"/>
<rect x="556" y="572" width="5" height="13.5" fill="#1f77b4"/>
<rect x="563" y="577" width="5" height="8.5" fill="#1f77b4"/>
<rect x="570" y="541" width="5" height="44.5" fill="#1f77b4"/>
<rect x="577" y="565" width="5" height="20.5" fill="#1f77b4"/>
<rect x="584" y="556" width="5" height="29.5" fill="#1f77b4"/>
<rect x="591" y="560" width="6" height="25.5" fill="#1f77b4"/>
<rect x="598" y="564" width="6" height="21.5" fill="#1f77b4"/>
<rect x="605" y="552" width="6" height="33.5" fill="#1f77b4"/>
<rect x="612" y="541" width="6" height="44.5" fill="#1f77b4"/>
<rect x="619" y="566" width="6" height="19.5" fill="#1f77b4"/>
<rect x="626" y="571" width="6" height="14.5" fill="#1f77b4"/>
<rect x="633" y="561" width="6" height="24.5" fill="#1f77b4"/>
<rect x="640" y="565" width="6" height="20.5" fill="#1f77b4"/>
<rect x="647" y="575" width="6" height="10.5" fill="#1f77b4"/>
<rect x="654" y="575" width="6" height="10.5" fill="#1f77b4"/>
<rect x="661" y="566" width="6" height="19.5" fill="#1f77b4"/>
<rect x="669" y="566" width="5" height="19.5" fill="#1f77b4"/>
<rect x="676" y="573" width="5" height="12.5" fill="#1f77b4"/>
<rect x="683" y="575" width="5" height="10.5" fill="#1f77b4"/>
<rect x="690" y="572" width="5" height="13.5" fill="#1f77b4"/>
<rect x="697" y="568" width="5" height="17.5" fill="#1f77b4"/>
<rect x="704" y="574" width="5" height="11.5" fill="#1f77b4"/>
<rect x="711" y="575" width="6" height="10.5" fill="#1f77b4"/>
<rect x="718" y="572" width="6" height="13.5" fill="#1f77b4"/>
<rect x="725" y="569" width="6" height="16.5" fill="#1f77b4"/>
<rect x="732" y="576" width="6" height="9.5" fill="#1f77b4"/>
<rect x="739" y="577" width="6" height="8.5" fill="#1f77b4"/>
<rect x="746" y="571" width="6" height="14.5" fill="#1f77b4"/>
<rect x="753" y="572" width="6" height="13.5" fill="#1f77b4"/>
<rect x="760" y="578" width="6" height="7.5" fill="#1f77b4"/>
<rect x="767" y="576" width="6" height="9.5" fill="#1f77b4"/>
<rect x="774" y="570" width="6" height="15.5" fill="#1f77b4"/>
<rect x="781" y="576" width="6" height="9.5" fill="#1f77b4"/>
<rect x="789" y="578" width="5" height="7.5" fill="#1f77b4"/>
<rect x="796" y="572" width="5" height="13.5" fill="#1f77b4"/>
<rect x="803" y="577" width="5" height="8.5" fill="#1f77b4"/>
<rect x="810" y="572" width="5" height="13.5" fill="#1f77b4"/>
<rect x="817" y="573" width="5" height="12.5" fill="#1f77b4"/>
<rect x="824" y="574" width="5" height="11.5" fill="#1f77b4"/>
<rect x="831" y="571" width="6" height="14.5" fill="#1f77b4"/>
<rect x="838" y="566" width="6" height="19.5" fill="#1f77b4"/>
<rect x="845" y="578" width="6" height="7.5" fill="#1f77b4"/>
<rect x="852" y="579" width="6" height="6.5" fill="#1f77b4"/>
<rect x="859" y="573" width="6" height="12.5" fill="#1f77b4"/>
<rect x="125.5" y="539.5" width="775.0" height="46.0" fill="none" stroke="#000" stroke-width="1.11"/>
<line x1="163.5" x2="163.5" y1="585.5" y2="590.36" stroke="#000" stroke-width="1.11"/>
<g class="tk"><text transform="translate(163.10,605.00) scale(0.88,1)" text-anchor="middle">0</text></g>
<line x1="304.5" x2="304.5" y1="585.5" y2="590.36" stroke="#000" stroke-width="1.11"/>
<g class="tk"><text transform="translate(301.14,605.00) scale(0.88,1)" text-anchor="middle">2</text><text transform="translate(307.44,605.00) scale(0.88,1)" text-anchor="middle">0</text></g>
<line x1="445.5" x2="445.5" y1="585.5" y2="590.36" stroke="#000" stroke-width="1.11"/>
<g class="tk"><text transform="translate(442.33,605.00) scale(0.88,1)" text-anchor="middle">4</text><text transform="translate(448.63,605.00) scale(0.88,1)" text-anchor="middle">0</text></g>
<line x1="587.5" x2="587.5" y1="585.5" y2="590.36" stroke="#000" stroke-width="1.11"/>
<g class="tk"><text transform="translate(583.53,605.00) scale(0.88,1)" text-anchor="middle">6</text><text transform="translate(589.83,605.00) scale(0.88,1)" text-anchor="middle">0</text></g>
<line x1="728.5" x2="728.5" y1="585.5" y2="590.36" stroke="#000" stroke-width="1.11"/>
<g class="tk"><text transform="translate(724.72,605.00) scale(0.88,1)" text-anchor="middle">8</text><text transform="translate(731.02,605.00) scale(0.88,1)" text-anchor="middle">0</text></g>
<line x1="869.5" x2="869.5" y1="585.5" y2="590.36" stroke="#000" stroke-width="1.11"/>
<g class="tk"><text transform="translate(861.30,605.00) scale(0.88,1)" text-anchor="middle">1</text><text transform="translate(868.30,605.00) scale(0.88,1)" text-anchor="middle">0</text><text transform="translate(875.30,605.00) scale(0.88,1)" text-anchor="middle">0</text></g>
<line x1="120.64" x2="125.5" y1="585.5" y2="585.5" stroke="#000" stroke-width="1.11"/>
<g class="tk"><text transform="translate(112.10,590.00) scale(0.88,1)" text-anchor="middle">0</text></g>
<line x1="120.64" x2="125.5" y1="559.5" y2="559.5" stroke="#000" stroke-width="1.11"/>
<g class="tk"><text transform="translate(70.32,564.00) scale(0.88,1)" text-anchor="middle">5</text><text transform="translate(77.05,564.00) scale(0.88,1)" text-anchor="middle">0</text><text transform="translate(83.78,564.00) scale(0.88,1)" text-anchor="middle">0</text><text transform="translate(90.51,564.00) scale(0.88,1)" text-anchor="middle">0</text><text transform="translate(97.24,564.00) scale(0.88,1)" text-anchor="middle">0</text><text transform="translate(103.97,564.00) scale(0.88,1)" text-anchor="middle">0</text><text transform="translate(110.70,564.00) scale(0.88,1)" text-anchor="middle">0</text></g>
</svg></body></html>
